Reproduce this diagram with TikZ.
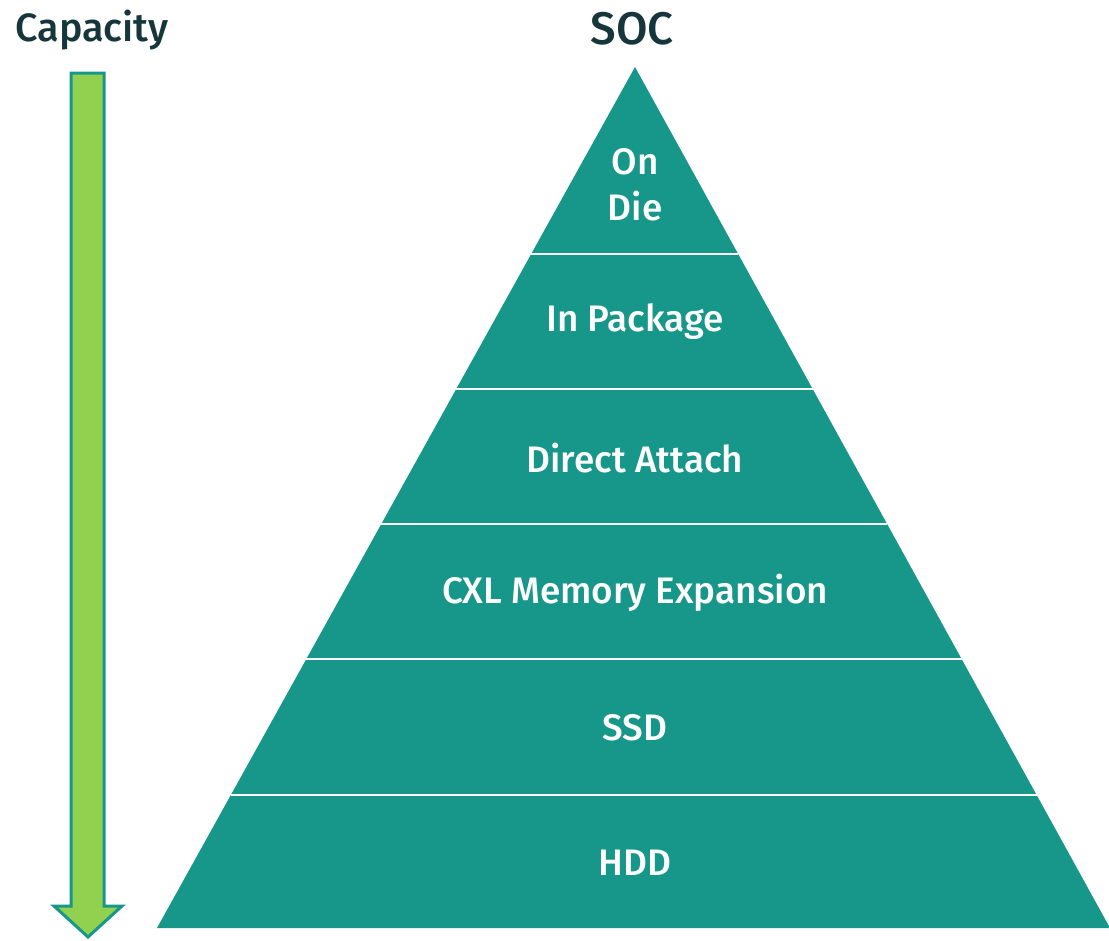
\documentclass[tikz,border=0pt]{standalone}
\usepackage{fontspec}
\setmainfont{Fira Sans}[UprightFont=* Medium]
\usetikzlibrary{calc}
\definecolor{socteal}{HTML}{17968A}
\definecolor{capgreen}{HTML}{92D050}
\definecolor{titleink}{HTML}{17363B}

\begin{document}
\begin{tikzpicture}[x=0.02cm,y=-0.02cm,
        layertext/.style={text=white,font=\fontsize{21}{25}\selectfont,align=center},
        titletext/.style={text=titleink}]
        \useasboundingbox (0,0) rectangle (1109,940);

        % capacity arrow
        \draw[line width=0.06cm,socteal,fill=capgreen,line join=miter]
            (71,73) -- (104,73) -- (104,906) -- (122,906) -- (88,937) -- (54,906) -- (71,906) -- cycle;
        \node[titletext,font=\fontsize{22.5}{26}\selectfont] (capacity) at (92,30) {Capacity};

        % pyramid
        \coordinate (apex) at (635,67);
        \coordinate (baseL) at (157,928);
        \coordinate (baseR) at (1110,928);
        \fill[socteal] (apex) -- (baseL) -- (baseR) -- cycle;
        \node[titletext,font=\fontsize{26}{30}\selectfont] (soc) at (632,29) {SOC};

        \draw[white,line width=0.045cm] ($(apex)!0.2172!(baseL)$) -- ($(apex)!0.2172!(baseR)$);
        \draw[white,line width=0.045cm] ($(apex)!0.374!(baseL)$) -- ($(apex)!0.374!(baseR)$);
        \draw[white,line width=0.045cm] ($(apex)!0.5308!(baseL)$) -- ($(apex)!0.5308!(baseR)$);
        \draw[white,line width=0.045cm] ($(apex)!0.6876!(baseL)$) -- ($(apex)!0.6876!(baseR)$);
        \draw[white,line width=0.045cm] ($(apex)!0.8455!(baseL)$) -- ($(apex)!0.8455!(baseR)$);

        \node[layertext] (ondie) at (635,185) {On\\[1pt]Die};
        \node[layertext] (package) at (635,322) {In Package};
        \node[layertext] (direct) at (635,458) {Direct Attach};
        \node[layertext] (cxl) at (635,593) {CXL Memory Expansion};
        \node[layertext] (ssd) at (635,728) {SSD};
        \node[layertext] (hdd) at (635,863) {HDD};
    \end{tikzpicture}
\end{document}
